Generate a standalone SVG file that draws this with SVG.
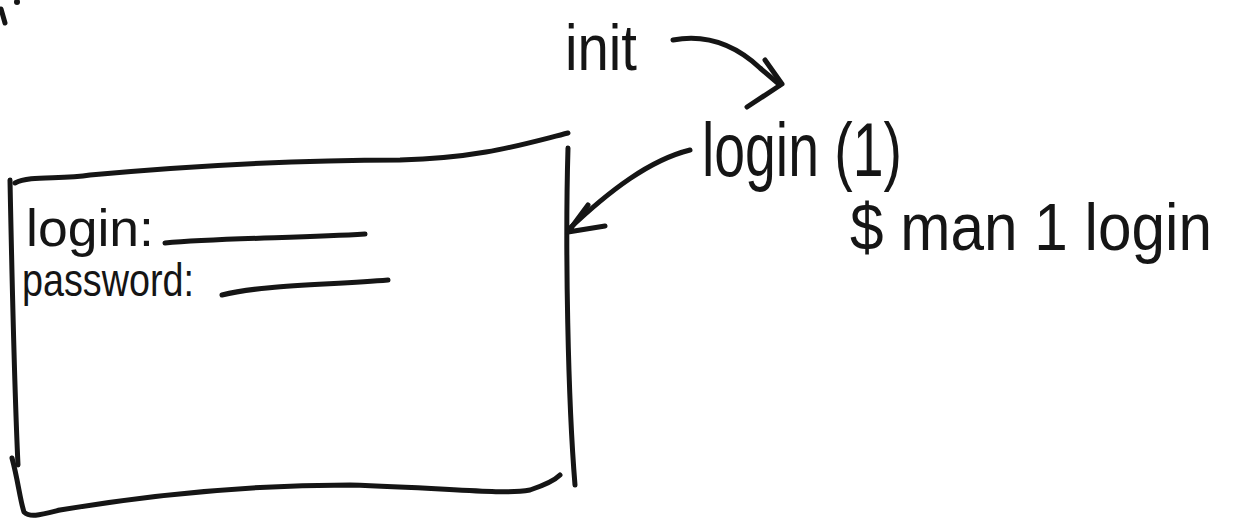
<svg xmlns="http://www.w3.org/2000/svg" width="1249" height="518" viewBox="0 0 1249 518">
<style>
.s{fill:none;stroke:#151515;stroke-width:5;stroke-linecap:round;stroke-linejoin:round}
.t{font-family:"Liberation Sans",Arial,sans-serif;fill:#151515}
</style>
<rect width="1249" height="518" fill="#ffffff"/>
<g id="corner-fragment">
<path class="s" d="M1,9 L5,23"/>
<circle cx="17" cy="2" r="3" fill="#151515"/>
</g>
<g id="init">
<text class="t" x="565" y="70" font-size="64" textLength="72" lengthAdjust="spacingAndGlyphs">init</text>
</g>
<g id="login-1">
<text class="t" x="702" y="176" font-size="76" textLength="200" lengthAdjust="spacingAndGlyphs">login (1)</text>
</g>
<g id="man-login">
<text class="t" x="850" y="250" font-size="66" textLength="362" lengthAdjust="spacingAndGlyphs">$ man 1 login</text>
</g>
<g id="login-box">
<path class="s" d="M15,183 C30,175 60,180 90,175 C200,165 300,160 400,160 C480,158 520,145 568,133"/>
<path class="s" d="M10,180 C12,280 14,380 18,465"/>
<path class="s" d="M12,458 C18,480 20,500 24,512 C30,518 40,515 60,510 C150,495 250,485 350,485 C450,488 500,495 530,490 C545,485 555,480 560,475"/>
<path class="s" d="M568,148 C565,250 568,400 575,485"/>
<text class="t" x="26" y="246" font-size="52" textLength="128" lengthAdjust="spacingAndGlyphs">login:</text>
<path class="s" d="M165,243 C220,238 300,238 365,234"/>
<text class="t" x="22" y="296" font-size="46" textLength="172" lengthAdjust="spacingAndGlyphs">password:</text>
<path class="s" d="M222,295 C260,285 330,285 388,280"/>
</g>
<g id="connectors">
<path class="s" d="M673,40 C700,35 730,40 760,68 L780,85"/>
<path class="s" d="M765,60 L782,84 L747,107"/>
<path class="s" d="M690,150 C650,160 610,190 568,230"/>
<path class="s" d="M588,205 L568,232 L605,226"/>
</g>
</svg>
